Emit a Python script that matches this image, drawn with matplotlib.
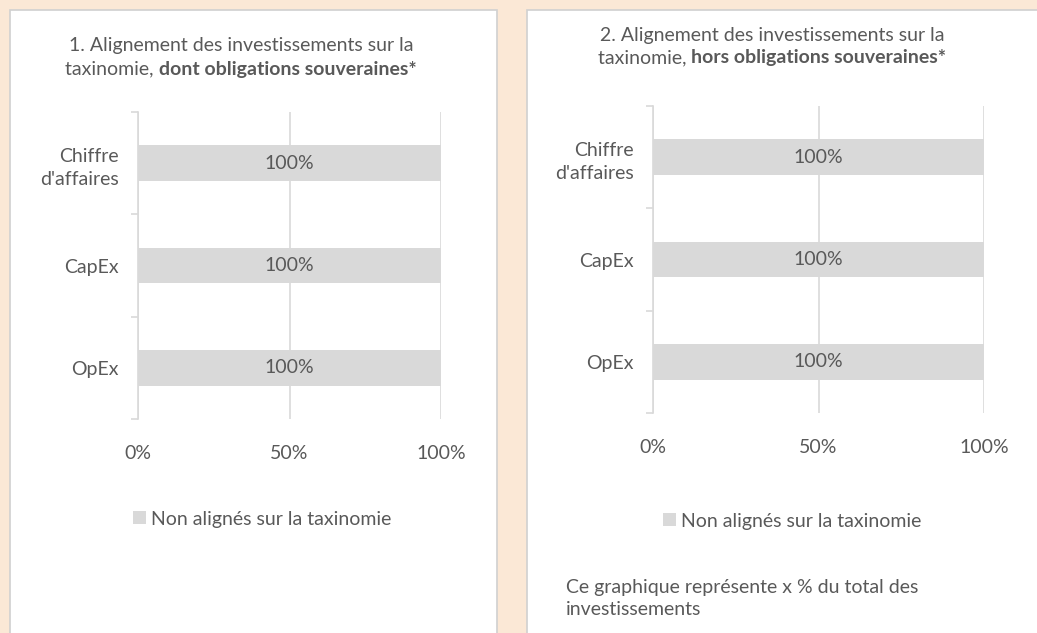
import matplotlib.pyplot as plt
from matplotlib.patches import Rectangle, Patch

plt.rcParams['font.family'] = ['Lato', 'DejaVu Sans']

categories = ['OpEx', 'CapEx', "Chiffre\nd'affaires"]
values_with_sov = [100, 100, 100]
values_without_sov = [100, 100, 100]
xticks = [0, 50, 100]
xtick_labels = ['0%', '50%', '100%']
legend_label = 'Non alignés sur la taxinomie'

W, H = 1037, 633
TXT = '#595959'
GREY = '#d9d9d9'
BG = '#fbe8d6'
FS = 14

fig = plt.figure(figsize=(W / 100, H / 100), dpi=100)
fig.patch.set_facecolor(BG)


def fx(px):
    return px / W


def fy(py):
    return 1 - py / H


# white panels
for x0, x1 in [(9.5, 496.5), (526.5, 1060)]:
    fig.patches.append(Rectangle(
        (fx(x0), fy(700)), fx(x1 - x0), (700 - 10) / H,
        transform=fig.transFigure, facecolor='white', edgecolor='#d0d0d0',
        linewidth=1.2, zorder=-5))


def draw_panel(box, values, title_nums, title_bold, title_center, title_y,
               legend_xy):
    left, right, top, bottom = box
    ax = fig.add_axes([fx(left), fy(bottom), fx(right - left),
                       (bottom - top) / H])
    ax.set_facecolor('none')
    pos = list(range(len(categories)))
    bars = ax.barh(pos, values, height=0.35, color=GREY, zorder=2,
                   label=legend_label)
    for b, v in zip(bars, values):
        ax.text(b.get_width() / 2, b.get_y() + b.get_height() / 2,
                f'{v}%', ha='center', va='center', color=TXT, fontsize=FS,
                zorder=3)
    ax.set_xlim(0, 100)
    ax.set_ylim(-0.5, len(categories) - 0.5)
    ax.set_xticks(xticks)
    ax.set_xticklabels(xtick_labels)
    ax.set_yticks(pos)
    ax.set_yticklabels(categories)
    ax.set_yticks([p - 0.5 for p in pos] + [pos[-1] + 0.5], minor=True)
    ax.tick_params(axis='y', which='major', length=0, pad=14,
                   labelsize=FS, labelcolor=TXT)
    ax.tick_params(axis='y', which='minor', length=5, width=1.2,
                   color=GREY)
    ax.tick_params(axis='x', length=0, pad=19, labelsize=FS,
                   labelcolor=TXT)
    for lab in ax.get_yticklabels():
        lab.set_horizontalalignment('right')
        lab.set_multialignment('right')
        lab.set_linespacing(1.45)
    for s in ['top', 'right', 'bottom']:
        ax.spines[s].set_visible(False)
    ax.spines['left'].set_color(GREY)
    ax.spines['left'].set_linewidth(1.2)
    ax.grid(axis='x', color=GREY, linewidth=1.2, zorder=1)
    ax.set_axisbelow(True)

    # title, second line partly bold
    cx, cy = title_center
    fig.text(fx(cx), fy(cy), title_nums[0], ha='center', va='center',
             color=TXT, fontsize=FS)
    t1 = fig.text(0, fy(title_y), title_nums[1], ha='left', va='center',
                  color=TXT, fontsize=FS)
    t2 = fig.text(0, fy(title_y), title_bold, ha='left', va='center',
                  color=TXT, fontsize=FS, fontweight='bold')
    r = fig.canvas.get_renderer()
    w1 = t1.get_window_extent(r).width
    w2 = t2.get_window_extent(r).width
    start = cx - (w1 + w2) / 2
    t1.set_x(fx(start))
    t2.set_x(fx(start + w1))

    handle = Patch(facecolor=GREY, edgecolor='none')
    fig.legend([handle], [legend_label], loc='center',
               bbox_to_anchor=(fx(legend_xy[0]), fy(legend_xy[1])),
               frameon=False, handlelength=0.65, handleheight=0.65,
               handletextpad=0.25, fontsize=FS, labelcolor=TXT)
    return ax


draw_panel((138, 441, 112, 419), values_with_sov,
           ('1. Alignement des investissements sur la', 'taxinomie, '),
           'dont obligations souveraines*', (241, 46), 69, (262, 519))
draw_panel((653, 984, 106, 413), values_without_sov,
           ('2. Alignement des investissements sur la', 'taxinomie, '),
           'hors obligations souveraines*', (772, 35), 58, (792, 521))

fig.text(fx(566), fy(579), 'Ce graphique représente x % du total des\ninvestissements',
         ha='left', va='top', color=TXT, fontsize=FS, linespacing=1.35)

fig.savefig('out.png', dpi=100, facecolor=BG)
